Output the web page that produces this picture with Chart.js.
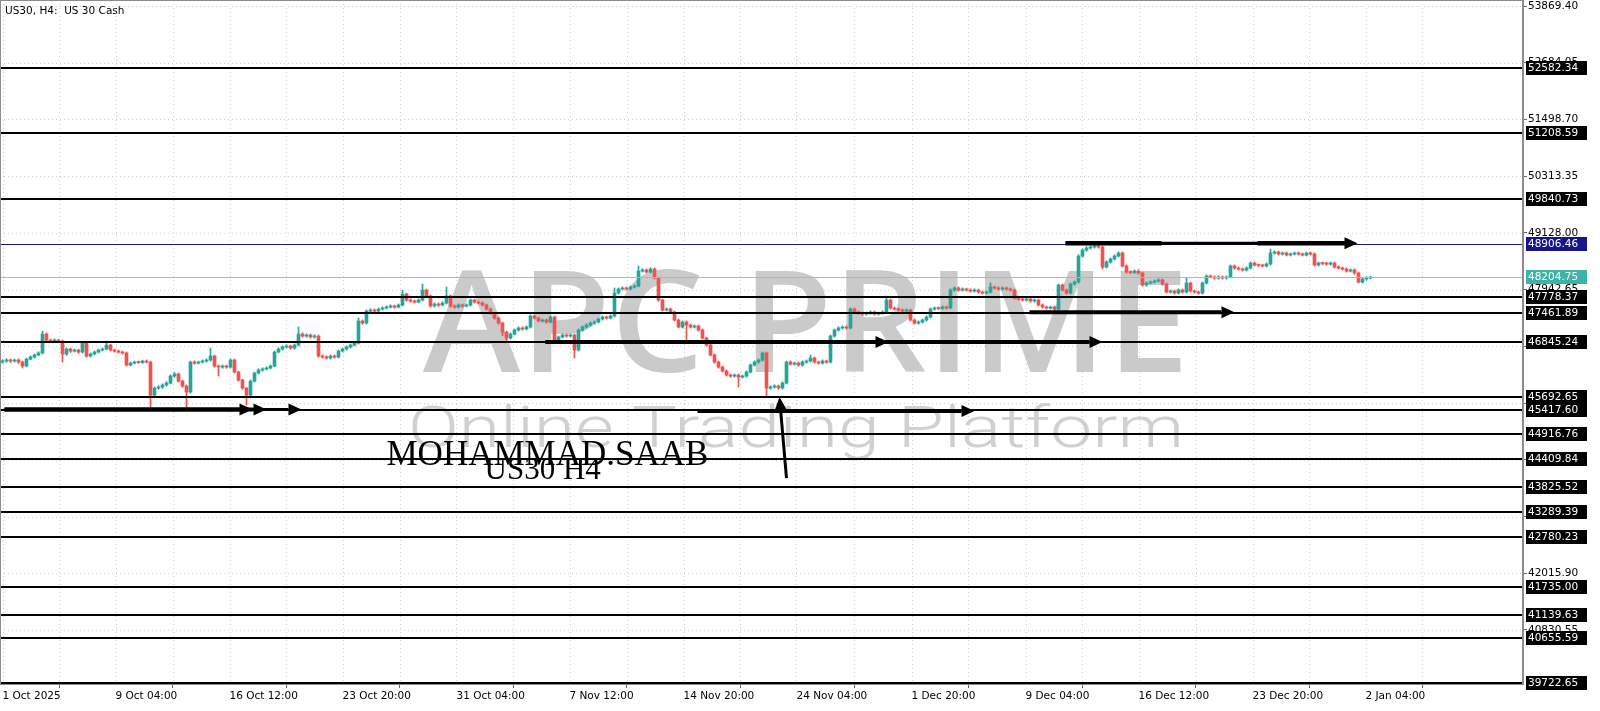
<!DOCTYPE html>
<html><head><meta charset="utf-8">
<script src="https://cdn.jsdelivr.net/npm/chart.js@4.4.1/dist/chart.umd.min.js"></script>
<style>html,body{margin:0;padding:0;background:#fff;overflow:hidden}#wrap{width:1600px;height:711px;position:relative}canvas{display:block}</style>
</head><body><div id="wrap"><canvas id="c" width="1600" height="711"></canvas></div>
<script>
// ---------- DATA (US30, H4) ----------
const firstOpen = 46430;
const closes = [
46450,46471,46450,46471,46429,46346,46492,46534,46576,46618,
47014,46889,46868,46889,46868,46597,46701,46659,46680,46638,
46826,46555,46597,46638,46680,46701,46785,46680,46659,46638,
46618,46367,46408,46429,46420,46450,46429,45740,45886,45907,
45949,45990,46137,46178,46032,45928,45802,46429,46408,46429,
46450,46471,46555,46346,46325,46346,46325,46471,46220,46053,
45886,45740,46032,46199,46262,46283,46304,46346,46638,46701,
46743,46764,46722,46785,47014,46973,46994,46952,46973,46555,
46534,46513,46555,46534,46659,46701,46743,46785,46826,47286,
47244,47495,47516,47495,47537,47558,47579,47600,47579,47621,
47850,47725,47704,47683,47725,47934,47809,47600,47641,47621,
47662,47809,47600,47579,47621,47600,47621,47725,47683,47662,
47621,47537,47453,47349,47244,47056,46931,47014,47098,47140,
47119,47161,47391,47349,47286,47307,47265,47370,46889,46952,
46994,46973,46994,46680,47098,47161,47203,47244,47265,47328,
47370,47349,47391,47871,47955,47976,47955,47997,48018,48331,
48352,48310,48373,48185,47725,47516,47537,47474,47307,47161,
47265,47203,47161,47182,47098,46931,46785,46576,46429,46325,
46241,46158,46137,46158,46116,46137,46220,46367,46429,46471,
46618,45886,45907,45928,45886,45990,46429,46387,46408,46367,
46429,46450,46513,46429,46408,46450,46429,46973,47098,47140,
47161,47140,47537,47474,47453,47432,47453,47474,47432,47453,
47474,47725,47558,47537,47516,47495,47516,47307,47244,47265,
47307,47370,47537,47558,47550,47579,47558,47934,47976,47934,
47955,47934,47913,47934,47892,47871,47892,47997,47976,47955,
47976,47955,47934,47767,47746,47725,47746,47704,47725,47621,
47579,47558,47579,47537,48039,47934,47871,48059,48101,48645,
48770,48812,48833,48854,48833,48415,48519,48582,48645,48707,
48436,48310,48300,48331,48289,48039,48080,48101,48122,48143,
48059,47892,47913,47871,47934,47892,48080,47913,47892,47871,
48080,48227,48206,48185,48206,48185,48206,48436,48394,48373,
48352,48394,48498,48457,48450,48436,48477,48707,48728,48687,
48707,48666,48687,48707,48687,48666,48707,48687,48457,48498,
48490,48477,48498,48415,48394,48373,48331,48352,48289,48101,
48164,48185,48204.75
];
const highs = [
46480,46500,46495,46490,46495,46450,46510,46560,46600,46645,
47077,47040,46910,46915,46905,46890,46725,46720,46705,46700,
46850,46845,46620,46660,46700,46725,46868,46800,46700,46680,
46660,46640,46430,46450,46450,46470,46475,46450,45910,45940,
45975,46020,46160,46210,46200,46050,45950,46450,46455,46450,
46475,46495,46722,46575,46370,46370,46365,46500,46490,46240,
46070,45900,46055,46220,46290,46310,46330,46370,46660,46725,
46770,46790,46785,46810,47161,47040,47020,47015,47000,46995,
46580,46560,46575,46580,46680,46725,46770,46810,46850,47349,
47310,47520,47545,47540,47560,47585,47605,47625,47620,47645,
47934,47870,47750,47730,47750,48059,47955,47830,47665,47665,
47690,47997,47830,47625,47645,47640,47645,47750,47745,47705,
47685,47640,47560,47470,47370,47265,47075,47040,47120,47165,
47165,47185,47415,47410,47370,47330,47330,47395,47390,46975,
47020,47015,47020,47015,47120,47185,47230,47270,47290,47350,
47395,47390,47415,47976,47980,48000,48000,48020,48045,48436,
48380,48375,48400,48395,48205,47745,47560,47560,47495,47330,
47290,47290,47225,47205,47205,47120,46950,46805,46600,46450,
46345,46265,46180,46180,46180,46160,46245,46390,46455,46495,
46640,46640,45935,45955,45950,46015,46450,46455,46430,46430,
46455,46475,46576,46535,46450,46475,46470,46995,47120,47165,
47185,47185,47560,47560,47495,47475,47475,47500,47495,47475,
47500,47809,47745,47580,47560,47540,47540,47535,47330,47290,
47330,47395,47560,47580,47580,47605,47600,47960,48000,48000,
47980,47975,47960,47960,47955,47915,47915,48080,48020,48000,
48000,47995,47980,47955,47790,47770,47770,47770,47750,47745,
47645,47600,47600,47600,48060,48060,47955,48080,48125,48670,
48795,48840,48860,48916,48880,48855,48545,48605,48670,48730,
48730,48460,48335,48355,48355,48310,48105,48125,48145,48170,
48165,48080,47940,47935,47960,47955,48185,48100,47935,47915,
48105,48250,48250,48230,48230,48230,48230,48460,48460,48415,
48395,48420,48520,48520,48480,48475,48500,48791,48755,48750,
48730,48730,48710,48730,48730,48710,48730,48730,48710,48520,
48520,48515,48520,48520,48440,48415,48395,48375,48375,48310,
48190,48210,48225
];
const lows = [
46405,46425,46420,46430,46400,46304,46330,46475,46510,46560,
46600,46860,46840,46845,46840,46429,46570,46630,46640,46610,
46620,46530,46535,46580,46620,46660,46685,46660,46635,46615,
46595,46345,46350,46390,46400,46400,46410,45489,45700,45860,
45880,45925,45970,46110,46010,45900,45489,45780,46380,46390,
46410,46430,46450,46320,46137,46300,46300,46305,46200,46030,
45860,45530,45715,46010,46180,46240,46265,46285,46330,46620,
46680,46720,46700,46700,46765,46950,46950,46930,46930,46530,
46510,46490,46490,46510,46515,46640,46680,46720,46765,46805,
47220,47225,47470,47470,47475,47515,47540,47560,47555,47560,
47600,47700,47680,47660,47665,47705,47785,47575,47580,47595,
47600,47640,47575,47555,47560,47575,47580,47600,47660,47640,
47600,47515,47430,47325,47220,46980,46847,46910,46995,47075,
47095,47100,47140,47325,47265,47265,47240,47245,46865,46870,
46930,46950,46950,46513,46660,47075,47140,47180,47220,47245,
47305,47325,47330,47370,47850,47935,47930,47935,47975,48000,
48310,48290,48290,48165,47700,47495,47495,47450,47285,47140,
47140,46889,47140,47140,47075,46910,46760,46555,46405,46300,
46220,46135,46110,46115,45907,46095,46115,46200,46345,46405,
46450,45719,45860,45885,45860,45865,45970,46365,46365,46345,
46345,46405,46430,46405,46385,46385,46405,46410,46950,47075,
47120,47115,47120,47450,47430,47410,47410,47430,47410,47410,
47430,47455,47535,47515,47495,47470,47470,47285,47220,47220,
47245,47285,47350,47515,47525,47530,47535,47540,47910,47910,
47910,47910,47890,47890,47870,47850,47850,47870,47955,47930,
47930,47930,47910,47745,47720,47700,47700,47680,47680,47600,
47555,47535,47535,47510,47515,47910,47850,47850,48035,48080,
48620,48745,48790,48810,48810,48373,48395,48495,48560,48625,
48415,48285,48275,48280,48265,48015,48015,48060,48080,48100,
48035,47870,47870,47850,47850,47870,47870,47890,47870,47845,
47850,48060,48185,48160,48160,48165,48160,48185,48370,48350,
48330,48330,48375,48435,48425,48415,48415,48455,48685,48665,
48665,48645,48645,48665,48665,48645,48645,48665,48435,48435,
48465,48455,48455,48395,48370,48350,48310,48310,48265,48080,
48080,48140,48165
];
const xTickBars = [0, 28.25, 56.75, 85, 113.5, 141.75, 170.25, 198.5, 227.25, 255.75, 284, 312.5, 340.75];
const xTickLabels = ['1 Oct 2025','9 Oct 04:00','16 Oct 12:00','23 Oct 20:00','31 Oct 04:00','7 Nov 12:00','14 Nov 20:00','24 Nov 04:00','1 Dec 20:00','9 Dec 04:00','16 Dec 12:00','23 Dec 20:00','2 Jan 04:00'];
const yTicks = [53869.40, 52684.05, 51498.70, 50313.35, 49128.00, 47942.65, 46757.30, 45571.95, 44386.60, 43201.25, 42015.90, 40830.55];
const blackLevels = [52582.34, 51208.59, 49840.73, 47778.37, 47461.89, 46845.24, 45692.65, 45417.60, 44916.76, 44409.84, 43825.52, 43289.39, 42780.23, 41735.00, 41139.63, 40655.59, 39722.65];
const blueLevel = 48906.46;
const lastPrice = 48204.75;
// arrows: [barFrom, priceFrom, barTo, priceTo, lineWidth, withHead]
const arrows = [
  [0.5, 45437, 62.5, 45437, 4, true],
  [0.5, 45437, 66, 45437, 4, true],
  [40, 45437, 74.75, 45437, 3, true],
  [196, 44005, 194.25, 45698, 3, true],
  [173.75, 45405, 243, 45405, 4, true],
  [135.75, 46850, 221.5, 46850, 4, true],
  [135.75, 46850, 275, 46850, 4, true],
  [256.75, 47470, 308, 47470, 4, true],
  [265.75, 48912, 338.75, 48912, 3, true],
  [265.75, 48912, 289.75, 48912, 4.5, false],
  [313.75, 48912, 336, 48912, 4.5, false]
];
const notes = [
  {text: 'MOHAMMAD.SAAB', bar: 96, price: 44270, size: 35},
  {text: 'US30 H4', bar: 120.5, price: 43990, size: 31}
];

// ---------- BUILD ----------
const UP = '#26a69a', DOWN = '#ef5350';
const opens = closes.map((c, i) => i === 0 ? firstOpen : closes[i - 1]);
const colors = closes.map((c, i) => c >= opens[i] ? UP : DOWN);
const wickData = closes.map((c, i) => ({x: i, y: [lows[i], highs[i]]}));
const bodyData = closes.map((c, i) => ({x: i, y: [Math.min(opens[i], c), Math.max(opens[i], c)]}));
const FONT = '"DejaVu Sans", sans-serif';

function yPix(chart, v) { return chart.scales.y.getPixelForValue(v); }
function xPix(chart, v) { return chart.scales.x.getPixelForValue(v); }

const drawPlugin = {
  id: 'mtDraw',
  beforeDatasetsDraw(chart) {
    const ctx = chart.ctx, a = chart.chartArea;
    ctx.save();
    ctx.beginPath(); ctx.rect(a.left, a.top, a.right - a.left, a.bottom - a.top); ctx.clip();
    // dotted grid
    ctx.strokeStyle = '#cfcfcf'; ctx.lineWidth = 1; ctx.setLineDash([1, 3]);
    const gx = [];
    xTickBars.forEach((b, i) => { gx.push(b); if (i < xTickBars.length - 1) gx.push((b + xTickBars[i + 1]) / 2); });
    gx.push(xTickBars[xTickBars.length - 1] + (xTickBars[1] - xTickBars[0]) / 2);
    gx.forEach(b => { const x = Math.round(xPix(chart, b)) + 0.5; ctx.beginPath(); ctx.moveTo(x, a.top); ctx.lineTo(x, a.bottom); ctx.stroke(); });
    yTicks.forEach(v => { const y = Math.round(yPix(chart, v)) + 0.5; ctx.beginPath(); ctx.moveTo(a.left, y); ctx.lineTo(a.right, y); ctx.stroke(); });
    ctx.setLineDash([]);
    // watermark
    ctx.fillStyle = '#cacaca';
    ctx.font = '600 142px "Open Sans"';
    ctx.textBaseline = 'alphabetic';
    let w = ctx.measureText('APC PRIME').width;
    ctx.save(); ctx.translate(423, 372); ctx.scale(766 / w, 1); ctx.fillText('APC PRIME', 0, 0); ctx.restore();
    ctx.fillStyle = '#d0d0d0';
    ctx.font = '300 58px Roboto';
    w = ctx.measureText('Online Trading Platform').width;
    ctx.save(); ctx.translate(408, 447); ctx.scale(776 / w, 1); ctx.fillText('Online Trading Platform', 0, 0); ctx.restore();
    ctx.restore();
  },
  afterDatasetsDraw(chart) {
    const ctx = chart.ctx, a = chart.chartArea;
    ctx.save();
    ctx.beginPath(); ctx.rect(a.left, a.top, a.right - a.left, a.bottom - a.top + 1); ctx.clip();
    // horizontal levels
    ctx.strokeStyle = '#000'; ctx.lineWidth = 2;
    blackLevels.forEach(v => { const y = Math.round(yPix(chart, v)); ctx.beginPath(); ctx.moveTo(a.left, y); ctx.lineTo(a.right, y); ctx.stroke(); });
    ctx.lineWidth = 1;
    ctx.strokeStyle = '#1a1a8c';
    let y = Math.round(yPix(chart, blueLevel)) + 0.5; ctx.beginPath(); ctx.moveTo(a.left, y); ctx.lineTo(a.right, y); ctx.stroke();
    ctx.strokeStyle = '#7fcdc4';
    y = Math.round(yPix(chart, lastPrice)) + 0.5; ctx.beginPath(); ctx.moveTo(a.left, y); ctx.lineTo(a.right, y); ctx.stroke();
    // arrows
    ctx.fillStyle = '#000'; ctx.strokeStyle = '#000'; ctx.lineCap = 'butt';
    arrows.forEach(([b1, p1, b2, p2, lw, head]) => {
      const x1 = xPix(chart, b1), y1 = yPix(chart, p1), x2 = xPix(chart, b2), y2 = yPix(chart, p2);
      const ang = Math.atan2(y2 - y1, x2 - x1), len = head ? 13 : 0, half = 6;
      ctx.lineWidth = lw;
      ctx.beginPath(); ctx.moveTo(x1, y1); ctx.lineTo(x2 - len * Math.cos(ang), y2 - len * Math.sin(ang)); ctx.stroke();
      if (head) {
        ctx.beginPath(); ctx.moveTo(x2, y2);
        ctx.lineTo(x2 - len * Math.cos(ang) + half * Math.sin(ang), y2 - len * Math.sin(ang) - half * Math.cos(ang));
        ctx.lineTo(x2 - len * Math.cos(ang) - half * Math.sin(ang), y2 - len * Math.sin(ang) + half * Math.cos(ang));
        ctx.closePath(); ctx.fill();
      }
    });
    // text notes
    ctx.fillStyle = '#000'; ctx.textBaseline = 'alphabetic'; ctx.textAlign = 'left';
    notes.forEach(n => { ctx.font = n.size + 'px "Liberation Serif"'; ctx.fillText(n.text, xPix(chart, n.bar), yPix(chart, n.price)); });
    ctx.restore();
    // frame
    ctx.save(); ctx.strokeStyle = '#8c8c8c'; ctx.lineWidth = 1;
    ctx.strokeRect(a.left + 0.5, a.top + 0.5, a.right - a.left - 1, a.bottom - a.top);
    ctx.restore();
  },
  afterDraw(chart) {
    const ctx = chart.ctx, a = chart.chartArea;
    ctx.save();
    ctx.font = '10.5px ' + FONT; ctx.textBaseline = 'middle'; ctx.textAlign = 'left';
    const box = (v, bg, fg) => {
      const yy = Math.round(yPix(chart, v));
      ctx.fillStyle = bg; ctx.fillRect(a.right + 3, yy - 7, 61, 14);
      ctx.fillStyle = fg; ctx.fillText(v.toFixed(2), a.right + 5, yy + 0.5);
    };
    blackLevels.forEach(v => box(v, '#000', '#fff'));
    box(blueLevel, '#16168a', '#fff');
    box(lastPrice, '#3db3a7', '#fff');
    // title
    ctx.fillStyle = '#000'; ctx.font = '10.5px ' + FONT;
    ctx.fillText('US30, H4:  US 30 Cash', 5, 11);
    ctx.restore();
  }
};

new Chart(document.getElementById('c'), {
  type: 'bar',
  data: {
    datasets: [
      {label: 'body', data: bodyData, backgroundColor: colors, barThickness: 3, minBarLength: 1, grouped: false, borderWidth: 0},
      {label: 'wick', data: wickData, backgroundColor: colors, barThickness: 1, grouped: false, borderWidth: 0}
    ]
  },
  options: {
    responsive: false, animation: false, devicePixelRatio: 1,
    layout: {padding: 0},
    plugins: {legend: {display: false}, tooltip: {enabled: false}},
    scales: {
      x: {
        type: 'linear', min: -0.625, max: 380.125, offset: false,
        grid: {drawOnChartArea: false, drawTicks: true, tickLength: 4, color: '#666'},
        border: {display: true, color: '#8c8c8c'},
        afterBuildTicks: s => { s.ticks = xTickBars.map(v => ({value: v})); },
        ticks: {autoSkip: false, maxRotation: 0, minRotation: 0, align: 'start', padding: 2, color: '#000',
          font: {family: 'DejaVu Sans', size: 10.5}, callback: (v, i) => xTickLabels[i]},
        afterFit: s => { s.height = 27; s.paddingLeft = 0; s.paddingRight = 0; }
      },
      y: {
        position: 'right', min: 39702.1, max: 53994.8,
        grid: {drawOnChartArea: false, drawTicks: true, tickLength: 4, color: '#666'},
        border: {display: true, color: '#8c8c8c'},
        afterBuildTicks: s => { s.ticks = yTicks.map(v => ({value: v})); },
        ticks: {autoSkip: false, padding: 1, color: '#000', font: {family: 'DejaVu Sans', size: 10.5},
          callback: v => Number(v).toFixed(2)},
        afterFit: s => { s.width = 77; s.paddingTop = 0; s.paddingBottom = 0; }
      }
    }
  },
  plugins: [drawPlugin]
});
</script>
</body></html>
